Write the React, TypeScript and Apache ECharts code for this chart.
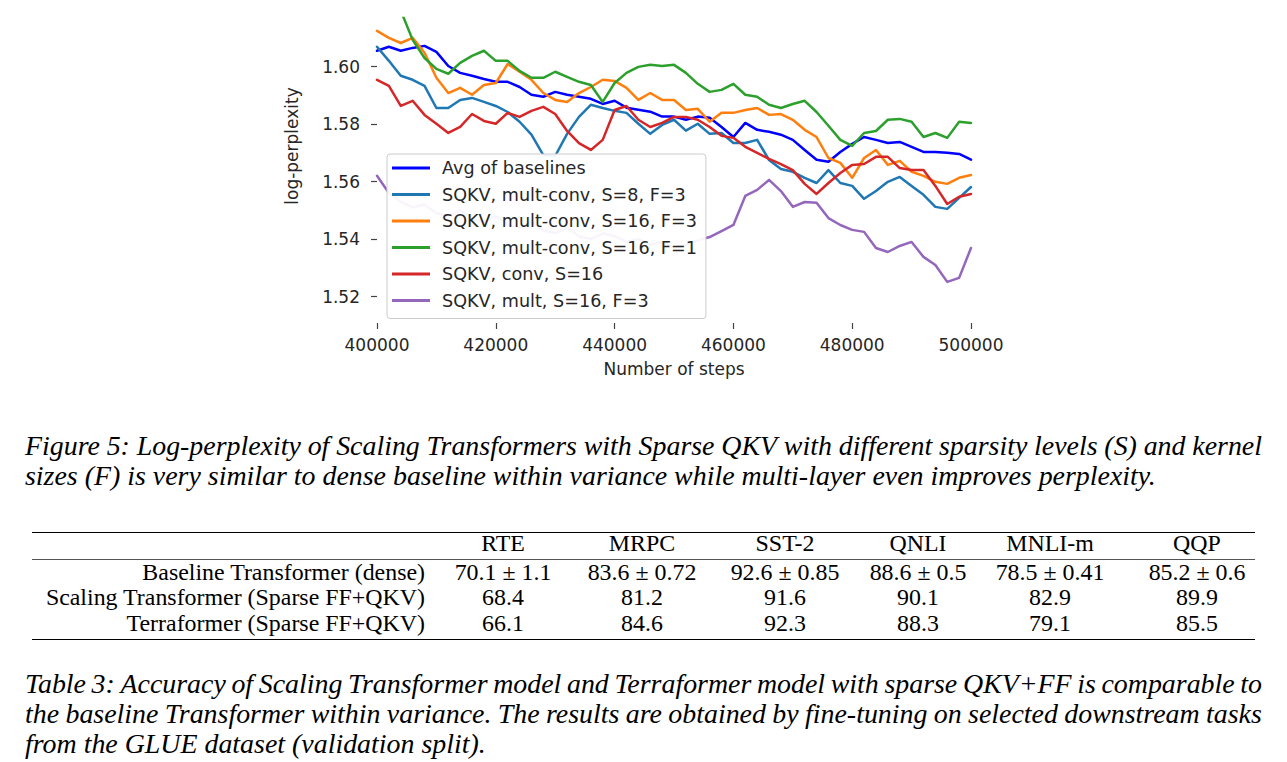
import React, { useEffect, useRef } from "react";
import * as echarts from "echarts";

// ---------- chart data ----------
const steps = [
  400000, 402000, 404000, 406000, 408000, 410000, 412000, 414000, 416000, 418000,
  420000, 422000, 424000, 426000, 428000, 430000, 432000, 434000, 436000, 438000,
  440000, 442000, 444000, 446000, 448000, 450000, 452000, 454000, 456000, 458000,
  460000, 462000, 464000, 466000, 468000, 470000, 472000, 474000, 476000, 478000,
  480000, 482000, 484000, 486000, 488000, 490000, 492000, 494000, 496000, 498000,
  500000,
];

const avgBaselines = [
  1.6055, 1.6069, 1.6055, 1.6065, 1.6072, 1.6051, 1.6002, 1.5978, 1.5968, 1.5957,
  1.5947, 1.5947, 1.5929, 1.5902, 1.5895, 1.5912, 1.5902, 1.5895, 1.5888, 1.587,
  1.5881, 1.5857, 1.585, 1.5843, 1.5826, 1.5826, 1.5815, 1.5826, 1.5822, 1.579,
  1.5755, 1.5804, 1.578, 1.5773, 1.5763, 1.5745, 1.571, 1.5676, 1.5669, 1.5703,
  1.5731, 1.5755, 1.5745, 1.5734, 1.5738, 1.5721, 1.5703, 1.5703, 1.57, 1.5696,
  1.5676,
];

const baselineUpper = [
  1.6138, 1.6152, 1.6124, 1.611, 1.6093, 1.6072, 1.6027, 1.6037, 1.6076, 1.6062,
  1.6027, 1.6034, 1.6006, 1.5968, 1.5961, 1.5947, 1.5947, 1.5947, 1.5933, 1.5919,
  1.5908, 1.5915, 1.5919, 1.5926, 1.5915, 1.5902, 1.5898, 1.5908, 1.5898, 1.5863,
  1.5877, 1.5853, 1.5821, 1.5801, 1.5787, 1.5773, 1.5741, 1.571, 1.5703, 1.5755,
  1.578, 1.5797, 1.578, 1.5801, 1.5797, 1.578, 1.5738, 1.5724, 1.5721, 1.5721,
  1.5734,
];

const baselineLower = [
  1.6023, 1.6023, 1.6006, 1.602, 1.6002, 1.5985, 1.5957, 1.5926, 1.5908, 1.5898,
  1.5884, 1.5874, 1.5888, 1.587, 1.5849, 1.5856, 1.5849, 1.5842, 1.5846, 1.5849,
  1.5842, 1.5787, 1.5745, 1.5724, 1.5731, 1.5717, 1.5734, 1.5734, 1.5738, 1.5745,
  1.5738, 1.5752, 1.5748, 1.5731, 1.571, 1.5686, 1.5665, 1.5651, 1.5651, 1.5685,
  1.5703, 1.5717, 1.5707, 1.5689, 1.5679, 1.5672, 1.5665, 1.5665, 1.5665, 1.5654,
  1.5647,
];

const sqkvMultConvS8F3 = [
  1.6069, 1.602, 1.5968, 1.5954, 1.5933, 1.5856, 1.5856, 1.5884, 1.5891, 1.5877,
  1.5863, 1.5842, 1.5808, 1.5763, 1.5692, 1.5689, 1.5766, 1.5825, 1.5867, 1.5856,
  1.5846, 1.5839, 1.5801, 1.5766, 1.5797, 1.5815, 1.5777, 1.5801, 1.5766, 1.5769,
  1.5734, 1.5734, 1.5745, 1.5675, 1.5644, 1.5634, 1.5613, 1.5595, 1.564, 1.5595,
  1.5585, 1.554, 1.5567, 1.5599, 1.5616, 1.5585, 1.5554, 1.5512, 1.5505, 1.5543,
  1.5581,
];

const sqkvMultConvS16F3 = [
  1.6124, 1.61, 1.6082, 1.61, 1.6048, 1.5961, 1.5908, 1.5926, 1.5902, 1.5936,
  1.5943, 1.6009, 1.5982, 1.5954, 1.5908, 1.5884, 1.5877, 1.5908, 1.5929, 1.5954,
  1.595, 1.5926, 1.5884, 1.5908, 1.5884, 1.5884, 1.5849, 1.5853, 1.5808, 1.5839,
  1.5839, 1.5849, 1.5856, 1.5832, 1.5835, 1.5815, 1.578, 1.5755, 1.5682, 1.5665,
  1.5613, 1.5682, 1.571, 1.5658, 1.5672, 1.5634, 1.562, 1.5599, 1.5592, 1.5613,
  1.5623,
];

const sqkvMultConvS16F1 = [
  1.63, 1.625, 1.6195, 1.6093, 1.603, 1.5992, 1.5975, 1.6013, 1.6037, 1.6055,
  1.602, 1.602, 1.5985, 1.5961, 1.5961, 1.5982, 1.5964, 1.5947, 1.5936, 1.5877,
  1.5943, 1.5978, 1.5999, 1.6006, 1.6002, 1.6006, 1.5978, 1.594, 1.5912, 1.5919,
  1.594, 1.5902, 1.5895, 1.5867, 1.5856, 1.587, 1.5881, 1.5842, 1.5794, 1.5745,
  1.5724, 1.5769, 1.5776, 1.5815, 1.5818, 1.5808, 1.5755, 1.5769, 1.5752, 1.5808,
  1.5804,
];

const sqkvConvS16 = [
  1.5954, 1.5933, 1.5863, 1.5881, 1.5832, 1.5801, 1.5769, 1.579, 1.5835, 1.5811,
  1.5801, 1.5839, 1.5825, 1.5846, 1.586, 1.5835, 1.5776, 1.5734, 1.571, 1.5745,
  1.5849, 1.5863, 1.5815, 1.579, 1.5804, 1.5825, 1.5825, 1.5815, 1.579, 1.5759,
  1.5752, 1.5721, 1.57, 1.5679, 1.5661, 1.564, 1.5592, 1.5557, 1.5595, 1.563,
  1.5658, 1.5661, 1.5686, 1.5686, 1.5647, 1.564, 1.564, 1.5585, 1.5522, 1.5547,
  1.5557,
];

const sqkvMultS16F3 = [
  1.562, 1.556, 1.553, 1.551, 1.552, 1.549, 1.548, 1.55, 1.547, 1.546,
  1.548, 1.545, 1.544, 1.546, 1.543, 1.542, 1.544, 1.541, 1.54, 1.542,
  1.541, 1.539, 1.54, 1.538, 1.539, 1.537, 1.538, 1.5395, 1.5407, 1.5428,
  1.5449, 1.555, 1.5571, 1.5606, 1.5567, 1.5512, 1.5529, 1.5526, 1.5473, 1.5449,
  1.5432, 1.5425, 1.5369, 1.5355, 1.5376, 1.539, 1.5338, 1.531, 1.5251, 1.5265,
  1.5369,
];

const yTicks = [1.52, 1.54, 1.56, 1.58, 1.6];

const seriesNames = [
  "Avg of baselines",
  "SQKV, mult-conv, S=8, F=3",
  "SQKV, mult-conv, S=16, F=3",
  "SQKV, mult-conv, S=16, F=1",
  "SQKV, conv, S=16",
  "SQKV, mult, S=16, F=3",
];
const seriesValues = [
  avgBaselines,
  sqkvMultConvS8F3,
  sqkvMultConvS16F3,
  sqkvMultConvS16F1,
  sqkvConvS16,
  sqkvMultS16F3,
];
const seriesColors = ["#0000ff", "#1f77b4", "#ff7f0e", "#2ca02c", "#d62728", "#9467bd"];

// ---------- text / table data ----------
const fig5Caption = [
  "Figure 5: Log-perplexity of Scaling  Transformers with Sparse QKV with different sparsity levels (S) and kernel",
  "sizes (F) is very similar to dense baseline within variance while multi-layer even improves perplexity.",
];
const table3Caption = [
  "Table 3: Accuracy of Scaling Transformer model and Terraformer model with sparse QKV+FF is comparable to",
  "the baseline Transformer within variance. The results are obtained by fine-tuning on selected downstream tasks",
  "from the GLUE dataset (validation split).",
];
const tableHeaders = ["RTE", "MRPC", "SST-2", "QNLI", "MNLI-m", "QQP"];
const tableRowLabels = [
  "Baseline Transformer (dense)",
  "Scaling Transformer (Sparse FF+QKV)",
  "Terraformer (Sparse FF+QKV)",
];
const tableRows = [
  ["70.1 \u00b1 1.1", "83.6 \u00b1 0.72", "92.6 \u00b1 0.85", "88.6 \u00b1 0.5", "78.5 \u00b1 0.41", "85.2 \u00b1 0.6"],
  ["68.4", "81.2", "91.6", "90.1", "82.9", "89.9"],
  ["66.1", "84.6", "92.3", "88.3", "79.1", "85.5"],
];

// ---------- layout constants ----------
const SERIF = '"Liberation Serif", "Times New Roman", serif';
const SANS = '"DejaVu Sans", sans-serif';
const CAP_FS = 27.9;
const TAB_FS = 23.9;
const ASC = 0.8375; // baseline offset for line-height = 1em (Liberation Serif)
const colCenters = [503, 642, 785, 918, 1050, 1197];
const headerBase = 552.5;
const rowBases = [580.8, 606.5, 632.2];
const fig5Bases = [455, 485];
const tab3Bases = [693.2, 723.2, 753.2];

const pair = (ys: number[]) => steps.map((s, i) => [s, ys[i]]);

function buildOption(): any {
  const bandSeries = [
    {
      name: "band-lower",
      type: "line",
      data: pair(baselineLower),
      stack: "band",
      symbol: "none",
      silent: true,
      lineStyle: { opacity: 0, width: 0 },
    },
    {
      name: "band-width",
      type: "line",
      data: steps.map((s, i) => [s, baselineUpper[i] - baselineLower[i]]),
      stack: "band",
      symbol: "none",
      silent: true,
      lineStyle: { opacity: 0, width: 0 },
      areaStyle: { color: "rgba(31,119,180,0.3)", opacity: 1 },
    },
  ];
  const lineSeries = seriesNames.map((name, k) => ({
    name,
    type: "line",
    data: pair(seriesValues[k]),
    symbol: "none",
    clip: true,
    color: seriesColors[k],
    lineStyle: { color: seriesColors[k], width: 2.5, join: "round", cap: "round" },
    itemStyle: { color: seriesColors[k] },
  }));

  return {
    animation: false,
    backgroundColor: "transparent",
    grid: { left: 377, right: 316, top: 18, bottom: 400 - 323, containLabel: false },
    xAxis: {
      type: "value",
      min: 400000,
      max: 500000,
      interval: 20000,
      axisLine: { show: false },
      axisTick: { show: true, length: 6, lineStyle: { color: "#444", width: 1.2 } },
      axisLabel: {
        margin: 13,
        fontSize: 17,
        color: "#262626",
        fontFamily: SANS,
        showMinLabel: true,
        showMaxLabel: true,
        formatter: (v: number) => String(v),
      },
      splitLine: { show: false },
      name: "Number of steps",
      nameLocation: "middle",
      nameGap: 37,
      nameTextStyle: { fontSize: 17, color: "#262626", fontFamily: SANS },
    },
    yAxis: {
      type: "value",
      min: 1.5108,
      max: 1.6169,
      axisLine: { show: false },
      axisTick: {
        show: true,
        length: 6,
        customValues: yTicks,
        lineStyle: { color: "#444", width: 1.2 },
      },
      axisLabel: {
        customValues: yTicks,
        margin: 17,
        fontSize: 17,
        color: "#262626",
        fontFamily: SANS,
        formatter: (v: number) => v.toFixed(2),
      },
      splitLine: { show: false },
    },
    legend: {
      data: seriesNames,
      orient: "vertical",
      left: 387,
      top: 154,
      padding: [4, 9, 8, 5],
      itemWidth: 38,
      itemHeight: 3,
      itemGap: 6.5,
      icon: "rect",
      selectedMode: false,
      backgroundColor: "rgba(255,255,255,0.93)",
      borderColor: "#cccccc",
      borderWidth: 1,
      borderRadius: 3,
      textStyle: {
        fontSize: 17.6,
        color: "#262626",
        fontFamily: SANS,
        lineHeight: 20,
        padding: [0, 0, 0, 7],
      },
    },
    graphic: [
      {
        type: "text",
        x: 292,
        y: 146,
        rotation: Math.PI / 2,
        style: {
          text: "log-perplexity",
          fontSize: 17,
          fontFamily: SANS,
          fill: "#262626",
          align: "center",
          verticalAlign: "middle",
        },
      },
    ],
    series: [...bandSeries, ...lineSeries],
  };
}

function Text(props: {
  x: number;
  base: number;
  fs: number;
  align?: "left" | "center" | "right";
  italic?: boolean;
  children: any;
}) {
  const { x, base, fs, align = "left", italic = false, children } = props;
  const tx = align === "center" ? "translateX(-50%)" : align === "right" ? "translateX(-100%)" : undefined;
  return (
    <div
      style={{
        position: "absolute",
        left: x,
        top: base - ASC * fs,
        fontSize: fs,
        lineHeight: `${fs}px`,
        whiteSpace: "nowrap",
        fontFamily: SERIF,
        fontStyle: italic ? "italic" : "normal",
        color: "#000",
        transform: tx,
      }}
    >
      {children}
    </div>
  );
}

function JustLine(props: { text: string; left: number; width: number; base: number; fs: number }) {
  const { text, left, width, base, fs } = props;
  const words = text.split(/\s+/).filter(Boolean);
  return (
    <div
      style={{
        position: "absolute",
        left,
        top: base - ASC * fs,
        width,
        height: fs,
        display: "flex",
        justifyContent: "space-between",
        fontSize: fs,
        lineHeight: `${fs}px`,
        whiteSpace: "nowrap",
        fontFamily: SERIF,
        fontStyle: "italic",
        color: "#000",
      }}
    >
      {words.map((w, i) => (
        <span key={i}>
          {w}
          {i < words.length - 1 ? " " : ""}
        </span>
      ))}
    </div>
  );
}

function Rule(props: { y: number; h: number; color: string }) {
  return (
    <div
      style={{
        position: "absolute",
        left: 31.7,
        top: props.y - props.h / 2,
        width: 1255.3 - 31.7,
        height: props.h,
        background: props.color,
      }}
    />
  );
}

export default function App() {
  const ref = useRef<HTMLDivElement | null>(null);

  useEffect(() => {
    if (!ref.current) return;
    const chart = echarts.init(ref.current, null, { renderer: "svg" });
    chart.setOption(buildOption());
    return () => chart.dispose();
  }, []);

  return (
    <div
      style={{
        position: "absolute",
        left: 0,
        top: 0,
        width: 1287,
        height: 762,
        background: "#fff",
        overflow: "hidden",
      }}
    >
      <div ref={ref} style={{ position: "absolute", left: 0, top: 0, width: 1287, height: 400 }} />

      {/* Figure 5 caption */}
      <JustLine text={fig5Caption[0]} left={25} width={1237} base={fig5Bases[0]} fs={CAP_FS} />
      <Text x={25} base={fig5Bases[1]} fs={CAP_FS} italic>
        {fig5Caption[1]}
      </Text>

      {/* Table 3 */}
      <Rule y={532.7} h={1.4} color="#000" />
      <Rule y={559.3} h={0.9} color="#555" />
      <Rule y={639.3} h={1.4} color="#000" />
      {tableHeaders.map((h, j) => (
        <Text key={"h" + j} x={colCenters[j]} base={headerBase} fs={TAB_FS} align="center">
          {h}
        </Text>
      ))}
      {tableRowLabels.map((lab, i) => (
        <Text key={"l" + i} x={425} base={rowBases[i]} fs={TAB_FS} align="right">
          {lab}
        </Text>
      ))}
      {tableRows.map((row, i) =>
        row.map((cell, j) => (
          <Text key={"c" + i + "-" + j} x={colCenters[j]} base={rowBases[i]} fs={TAB_FS} align="center">
            {cell}
          </Text>
        ))
      )}

      {/* Table 3 caption */}
      <JustLine text={table3Caption[0]} left={25} width={1237} base={tab3Bases[0]} fs={CAP_FS} />
      <JustLine text={table3Caption[1]} left={25} width={1237} base={tab3Bases[1]} fs={CAP_FS} />
      <Text x={25} base={tab3Bases[2]} fs={CAP_FS} italic>
        {table3Caption[2]}
      </Text>
    </div>
  );
}
